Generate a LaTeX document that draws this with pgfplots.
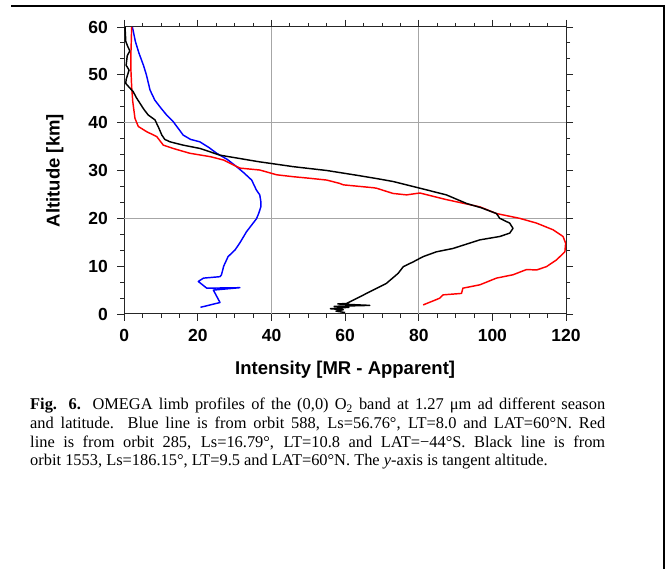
\documentclass[border=0pt]{standalone}
\usepackage{fontspec}
\setmainfont{Liberation Serif}
\newfontfamily\plotfont{Liberation Sans}
\usepackage{pgfplots}
\pgfplotsset{compat=1.18}

\begin{document}
\begin{tikzpicture}[x=1pt,y=1pt]
\path[use as bounding box] (0pt,0pt) rectangle (672pt,569pt);
\fill[white] (0pt,0pt) rectangle (672pt,569pt);
% page frame (top and right rules)
\draw[line width=2.6pt] (11pt,563pt) -- (664pt,563pt) -- (664pt,0pt);

\begin{axis}[
  at={(124.3pt,255pt)}, anchor=south west,
  width=441.7pt, height=287pt, scale only axis,
  xmin=0, xmax=120, ymin=0, ymax=60,
  xtick={0,20,...,120}, ytick={0,10,...,60},
  minor x tick num=3, minor y tick num=2,
  tick align=outside,
  major tick length=7pt, minor tick length=4pt,
  axis line style={line width=1pt, black!85},
  tick style={line width=0.9pt, black!85},
  extra x ticks={40,80}, extra y ticks={20,40},
  extra x tick labels={}, extra y tick labels={},
  extra tick style={grid=major, major grid style={gray!70, line width=0.8pt}, major tick length=0pt},
  /pgf/number format/assume math mode=true,
  ticklabel style={font=\plotfont\bfseries\fontsize{17.5}{17.5}\selectfont},
  xticklabel style={yshift=-5pt},
  yticklabel style={xshift=-6pt},
  label style={font=\plotfont\bfseries\fontsize{18.5}{18.5}\selectfont},
  xlabel={Intensity [MR - Apparent]},
  ylabel={Altitude [km]},
  xlabel style={yshift=-5pt},
  ylabel style={yshift=11pt},
  every axis plot/.append style={line width=1.45pt, line join=round},
]
% orbit 588
\addplot[blue] coordinates {
(2.2,60)(3,57)(4,54.5)(5.2,52)(6,50)(7,46.8)(8.3,44.7)(10,43)(11.5,41.6)
(13.3,40.2)(16,37.4)(18,36.5)(20.5,36)(23,34.8)(25.1,33.6)(28,32.3)(30.5,30.8)
(32.5,29.5)(34.6,28)(35.9,25.9)(36.8,24.9)(37.1,23.5)(37.1,22.4)(36.5,21)
(35.9,19.9)(34.5,18.5)(33.2,17.2)(31.5,15)(30.1,13.4)(28.2,12)(27,10)(26.4,8.2)
(26,7.8)(21.5,7.5)(20.1,6.8)(22.4,5.4)(31.4,5.5)(24.2,5.0)(26,2.4)(20.7,1.4)
};
% orbit 285
\addplot[red] coordinates {
(2,60)(1.9,57)(1.8,54.5)(1.8,51)(2,47.5)(2.3,44.4)(2.9,40.9)(3.8,39.2)(6.1,38.1)
(8.8,37.1)(10.6,35.3)(13.3,34.6)(17.8,33.6)(23.3,32.9)(26.9,32.2)(31.4,30.5)
(36.8,30.1)(41.4,29.1)(45.9,28.7)(50,28.4)(55,28)(58.5,27.3)(59.5,27)(67.6,26.4)
(68.5,26.3)(73,25.2)(76.7,24.9)(80.3,25.3)(87,24)(96.6,22.4)(101.1,21)(107.4,20)
(112,19)(116.5,17.6)(119.2,16.2)(119.9,14.8)(119.7,13)(117.4,11.3)(114.7,9.9)
(112,9.2)(109.3,9.3)(105.6,8.2)(101.1,7.5)(96.6,6.1)(92,5.4)(91.6,4.3)(86.6,4.0)
(85.7,3.3)(81.2,1.9)
};
% orbit 1553
\addplot[black] coordinates {
(0.2,60)(0.4,57)(0.9,56)(1.5,55)(0.8,54)(0.5,52)(1.3,51)(0.9,50)(0.5,49)(0.4,48.2)
(1.2,47.5)(2.4,46.5)(3.3,45.2)(4.3,44)(5.3,42.8)(6.5,41.6)(8.3,40.6)(9.2,39.2)
(10.2,37.4)(11,36.5)(12.4,36)(16,35.3)(20.6,34.6)(26,33.2)(31.4,32.5)(36.8,31.8)
(38.7,31.6)(45.9,30.8)(55,30)(64,28.9)(69.4,28.2)(73,27.7)(80.3,26.3)(87.5,24.9)
(93,23.1)(97,22.2)(101.1,21)(102,20)(104.7,19)(105.6,17.9)(104.7,16.9)(102,16.2)
(96.6,15.5)(89.3,13.7)(84.8,13)(81.2,12)(78.5,10.9)(75.8,9.9)(74.4,8.5)(71.2,6.4)
(67.6,5.0)(64,3.6)(60.4,2.2)(58,2.1)(66.7,1.8)(57,1.6)(61,1.4)(56,1.1)(59.5,0.9)
(57.5,0.6)(60,0.3)
};
\end{axis}

\node[anchor=north west, inner sep=0pt, text width=575pt, align=justify,
      font=\fontsize{16.4}{18.7}\selectfont] at (30pt,171pt) {%
\textbf{Fig. 6.} OMEGA limb profiles of the (0,0) O\textsubscript{2} band at 1.27 μm ad different season\linebreak
and latitude. Blue line is from orbit 588, Ls=56.76°, LT=8.0 and LAT=60°N. Red\linebreak
line is from orbit 285, Ls=16.79°, LT=10.8 and LAT=−44°S. Black line is from\linebreak
orbit 1553, Ls=186.15°, LT=9.5 and LAT=60°N. The \textit{y}-axis is tangent altitude.};
\end{tikzpicture}
\end{document}
